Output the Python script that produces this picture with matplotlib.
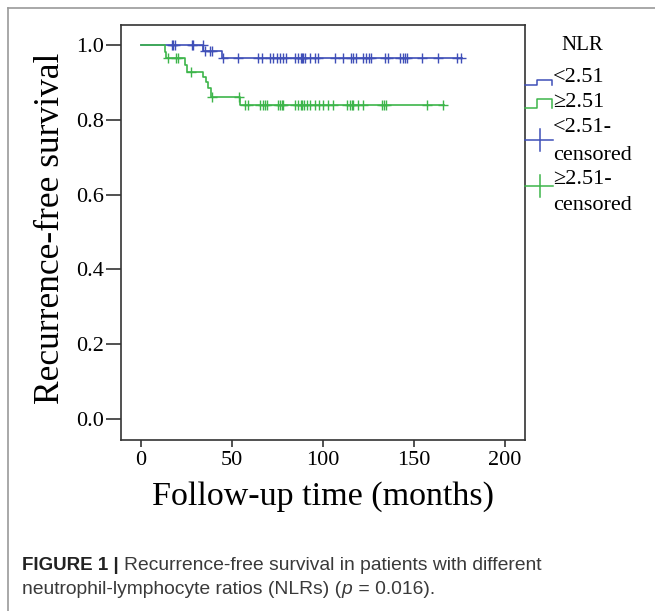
import numpy as np
import matplotlib
matplotlib.use("Agg")
import matplotlib.pyplot as plt
from matplotlib.lines import Line2D

# ---------------- data ----------------
blue_event_times = [0.0, 34.2, 44.5]
blue_surv = [1.0, 0.984, 0.965]
blue_end = 176.5
blue_censor = [16.9, 17.7, 18.7, 27.8, 28.7, 33.8, 35.2, 37.9, 39.2, 44.8, 53.1,
               64.5, 66.3, 70.9, 72.7, 74.6, 76.4, 78.2, 79.5, 84.6, 86.1, 87.9,
               88.7, 89.2, 90.1, 92.9, 95.6, 97.4, 106.6, 110.8, 115.2, 116.6,
               118.1, 122.1, 123.6, 125.1, 126.4, 134.1, 135.9, 142.3, 143.8,
               145.0, 146.3, 154.2, 163.3, 173.5, 176.1]

green_event_times = [0.0, 13.0, 14.0, 24.2, 25.2, 34.2, 35.7, 36.6, 38.4, 54.4]
green_surv = [1.0, 0.982, 0.964, 0.946, 0.929, 0.914, 0.900, 0.885, 0.862, 0.840]
green_end = 166.3
green_censor = [15.0, 19.0, 20.5, 27.5, 39.2, 54.0, 57.0, 59.0, 65.4, 67.2, 68.0,
                69.0, 75.5, 76.5, 77.3, 78.0, 84.6, 86.4, 87.9, 88.7, 89.7, 91.0,
                92.9, 95.6, 97.8, 100.2, 102.9, 105.7, 113.3, 114.8, 115.8, 116.7,
                119.4, 122.1, 132.2, 133.5, 134.6, 157.0, 166.1]

x_ticks = [0, 50, 100, 150, 200]
y_ticks = [0.0, 0.2, 0.4, 0.6, 0.8, 1.0]
legend_title = "NLR"
legend_labels = ["<2.51", "\u22652.51", "<2.51-", "censored", "\u22652.51-", "censored"]

BLUE = "#3F4FB8"
GREEN = "#3DB54A"
SERIF = "Liberation Serif"

W, H = 655, 611
fig = plt.figure(figsize=(W / 100, H / 100), dpi=100)

def fx(px):
    return px / W

def fy(py):
    return 1 - py / H

# outer frame
fig.add_artist(Line2D([fx(8), fx(8)], [fy(8), 0], transform=fig.transFigure, color="#9a9a9a", lw=1.2))
fig.add_artist(Line2D([fx(8), 1], [fy(8), fy(8)], transform=fig.transFigure, color="#9a9a9a", lw=1.2))

ax = fig.add_axes([fx(121), fy(440), fx(525) - fx(121), fy(25) - fy(440)])

def step_at(times, surv, t):
    idx = np.searchsorted(times, t, side="right") - 1
    return np.asarray(surv)[idx]

for times, surv, end, cens, col in [
    (blue_event_times, blue_surv, blue_end, blue_censor, BLUE),
    (green_event_times, green_surv, green_end, green_censor, GREEN),
]:
    tt = list(times) + [end]
    ss = list(surv) + [surv[-1]]
    ax.step(tt, ss, where="post", color=col, lw=1.2)
    cy = step_at(times, surv, np.array(cens))
    ax.plot(cens, cy, linestyle="none", marker="+", ms=7, mew=1.0, color=col)

ax.set_xlim(-11, 211)
ax.set_ylim(-0.056, 1.0535)
ax.set_xticks(x_ticks)
ax.set_xticklabels([str(v) for v in x_ticks])
ax.set_yticks(y_ticks)
ax.set_yticklabels([f"{v:.1f}" for v in y_ticks])
for sp in ax.spines.values():
    sp.set_color("#333333")
    sp.set_linewidth(1.2)
ax.tick_params(axis="y", length=11, width=1.2, color="#333333", pad=1, labelsize=16)
ax.tick_params(axis="x", length=5, width=1.2, color="#333333", pad=3, labelsize=16)
for lab in ax.get_xticklabels() + ax.get_yticklabels():
    lab.set_fontfamily(SERIF)

fig.text(fx(51), fy(228), "Recurrence-free survival", rotation=90, ha="center", va="center",
         family=SERIF, fontsize=25.5)
fig.text(fx(323), fy(497), "Follow-up time (months)", ha="center", va="center",
         family=SERIF, fontsize=24.5)

# legend (drawn manually, SPSS style)
T = fig.transFigure
fig.text(fx(582), fy(46), legend_title, ha="center", va="center", family=SERIF, fontsize=15)

def step_icon(ylow, ytop, col):
    xs = [525, 537, 537, 552, 552]
    ys = [ylow, ylow, ytop, ytop, ylow]
    fig.add_artist(Line2D([fx(v) for v in xs], [fy(v) for v in ys], transform=T, color=col, lw=1.1))

def cross_icon(yc, col):
    fig.add_artist(Line2D([fx(525), fx(553)], [fy(yc), fy(yc)], transform=T, color=col, lw=1.1))
    fig.add_artist(Line2D([fx(540), fx(540)], [fy(yc - 11), fy(yc + 11)], transform=T, color=col, lw=1.1))

def ltext(y, s):
    fig.text(fx(553), fy(y), s, ha="left", va="center", family=SERIF, fontsize=16)

step_icon(85, 80, BLUE)
ltext(77, legend_labels[0])
step_icon(108, 99, GREEN)
ltext(103, legend_labels[1])
cross_icon(140, BLUE)
ltext(128, legend_labels[2])
ltext(156, legend_labels[3])
cross_icon(186, GREEN)
ltext(179, legend_labels[4])
ltext(206, legend_labels[5])

# caption
SANS = "Liberation Sans"
CB = 13.5
CS = 13.9
y1, y2 = 566, 590
t1 = fig.text(fx(22), fy(y1), "FIGURE 1 |", ha="left", va="center", family=SANS,
              fontsize=CB, fontweight="bold", color="#222222")
fig.canvas.draw()
bb = t1.get_window_extent()
fig.text(bb.x1 / W + fx(5), fy(y1), "Recurrence-free survival in patients with different",
         ha="left", va="center", family=SANS, fontsize=CS, color="#3a3a3a")
t3 = fig.text(fx(22), fy(y2), "neutrophil-lymphocyte ratios (NLRs) (", ha="left", va="center",
              family=SANS, fontsize=CS, color="#3a3a3a")
fig.canvas.draw()
bb3 = t3.get_window_extent()
t4 = fig.text(bb3.x1 / W, fy(y2), "p", ha="left", va="center", family=SANS, fontsize=CS,
              style="italic", color="#3a3a3a")
fig.canvas.draw()
bb4 = t4.get_window_extent()
fig.text(bb4.x1 / W + fx(1), fy(y2), " = 0.016).", ha="left", va="center", family=SANS,
         fontsize=CS, color="#3a3a3a")

fig.savefig("out.png", dpi=100)
